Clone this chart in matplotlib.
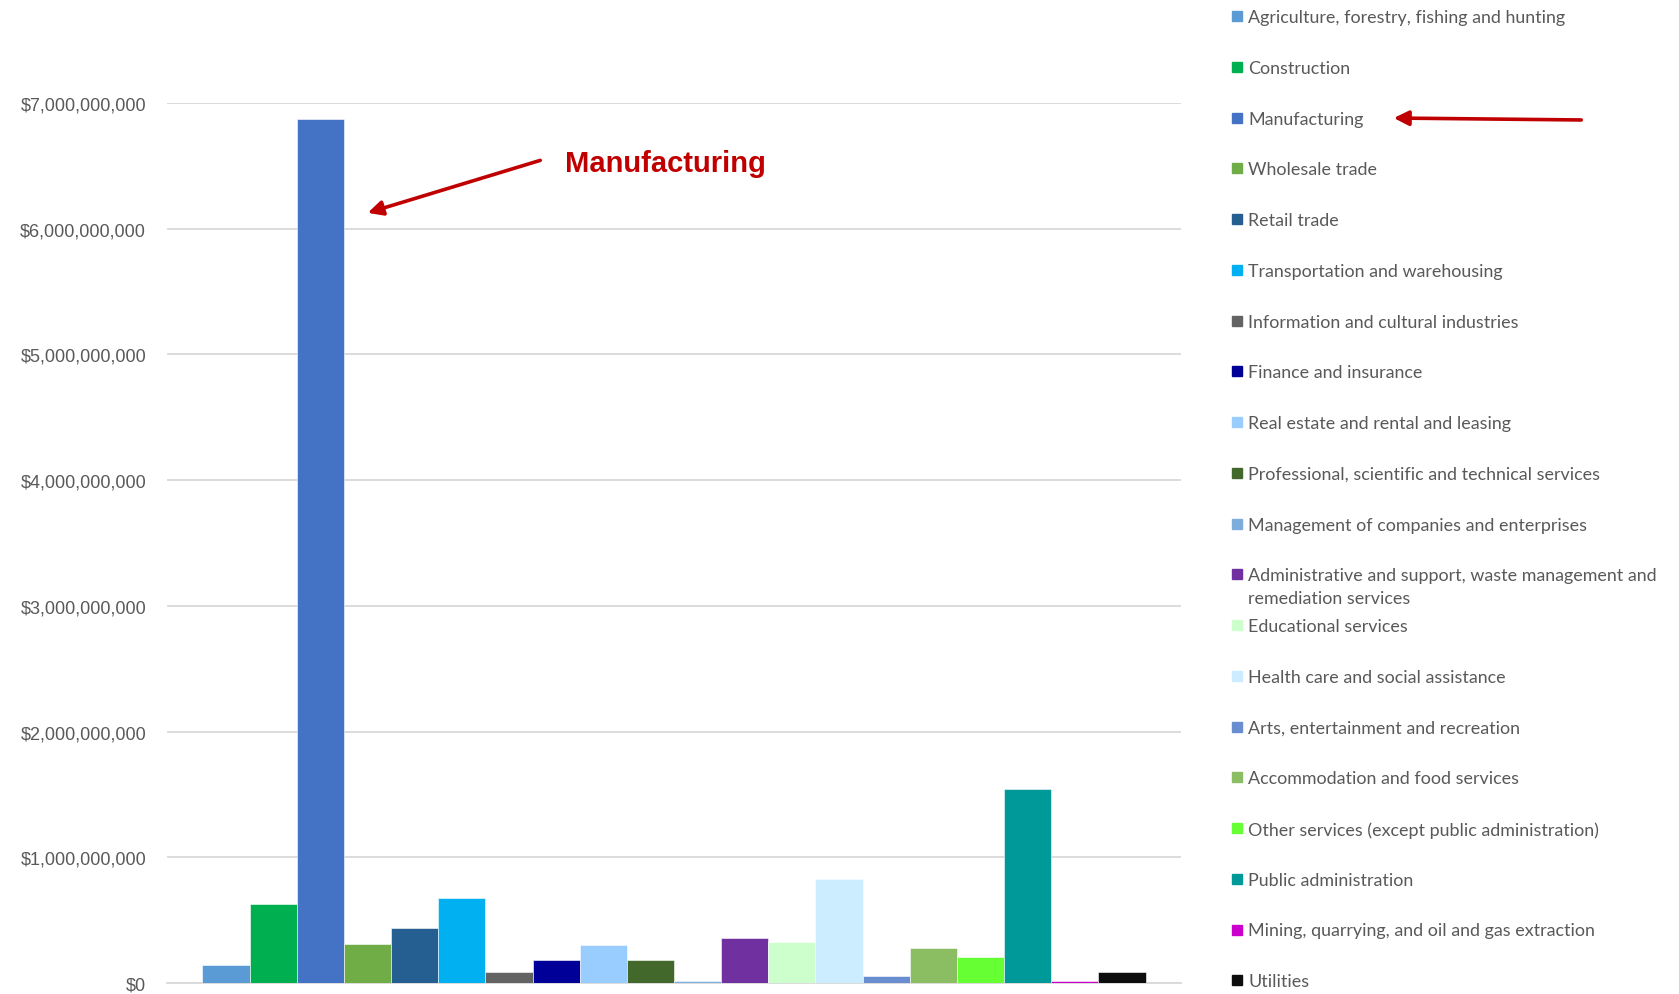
import matplotlib
matplotlib.use("Agg")
import matplotlib.pyplot as plt
from matplotlib.patches import Rectangle
from matplotlib.ticker import FuncFormatter

industries = [
    "Agriculture, forestry, fishing and hunting",
    "Construction",
    "Manufacturing",
    "Wholesale trade",
    "Retail trade",
    "Transportation and warehousing",
    "Information and cultural industries",
    "Finance and insurance",
    "Real estate and rental and leasing",
    "Professional, scientific and technical services",
    "Management of companies and enterprises",
    "Administrative and support, waste management and\nremediation services",
    "Educational services",
    "Health care and social assistance",
    "Arts, entertainment and recreation",
    "Accommodation and food services",
    "Other services (except public administration)",
    "Public administration",
    "Mining, quarrying, and oil and gas extraction",
    "Utilities",
]
values = [
    0.145e9, 0.63e9, 6.87e9, 0.31e9, 0.44e9, 0.68e9, 0.088e9, 0.18e9,
    0.30e9, 0.18e9, 0.012e9, 0.36e9, 0.33e9, 0.83e9, 0.055e9, 0.28e9,
    0.21e9, 1.54e9, 0.015e9, 0.09e9,
]
colors = [
    "#5B9BD5", "#00B050", "#4472C4", "#70AD47", "#255E91", "#00B0F0",
    "#636363", "#000099", "#99CCFF", "#43682B", "#7DADDC", "#7030A0",
    "#CCFFCC", "#CCECFF", "#698ED0", "#8BBD62", "#66FF33", "#009999",
    "#CC00CC", "#0D0D0D",
]
yticks = [0, 1e9, 2e9, 3e9, 4e9, 5e9, 6e9, 7e9]

W, H = 1679, 995
fig = plt.figure(figsize=(W / 100, H / 100), dpi=100)
ax = fig.add_axes([167 / W, 11 / H, 1014 / W, 880 / H])

x = list(range(len(values)))
ax.bar(x, values, width=1.0, color=colors, edgecolor="white", linewidth=0.4, zorder=3)

ax.set_xlim(-1.25, len(values) + 0.25)
ax.set_ylim(0, 7e9)
ax.set_yticks(yticks)
ax.yaxis.set_major_formatter(FuncFormatter(lambda v, _: f"${v:,.0f}"))
ax.tick_params(axis="y", length=0, pad=15, labelsize=13, labelcolor="#595959")
for lbl in ax.get_yticklabels():
    lbl.set_family("Liberation Sans")
ax.set_xticks([])
ax.grid(axis="y", color="#D9D9D9", linewidth=1.3, zorder=0)
for side in ("top", "right", "left"):
    ax.spines[side].set_visible(False)
ax.spines["bottom"].set_color("#D9D9D9")
ax.spines["bottom"].set_linewidth(1.3)

# callout on the tallest bar
ax.annotate(
    "", xy=(2.95, 6.12e9), xytext=(6.72, 6.55e9),
    arrowprops=dict(arrowstyle="-|>", color="#C00000", lw=2.6, mutation_scale=22),
)
ax.text(7.19, 6.52e9, "Manufacturing", color="#C00000", fontsize=21,
        fontweight="bold", family="Liberation Sans", va="center", ha="left")

# legend column drawn by hand so the wrapped entry keeps the row pitch
row0, pitch = 17, 50.75
for i, (name, col) in enumerate(zip(industries, colors)):
    yc = row0 + i * pitch
    fig.patches.append(Rectangle((1232 / W, 1 - (yc + 5) / H), 10 / W, 10 / H,
                                 transform=fig.transFigure, color=col))
    fig.text(1248 / W, 1 - (yc - 7) / H, name, fontsize=12.9, family="Lato",
             color="#595959", va="top", ha="left", linespacing=1.5)

ax.annotate(
    "", xy=(1391 / W, 1 - 119 / H), xytext=(1584 / W, 1 - 121 / H),
    xycoords="figure fraction", textcoords="figure fraction",
    arrowprops=dict(arrowstyle="-|>", color="#C00000", lw=2.6, mutation_scale=22),
)

fig.savefig("out.png", dpi=100)
